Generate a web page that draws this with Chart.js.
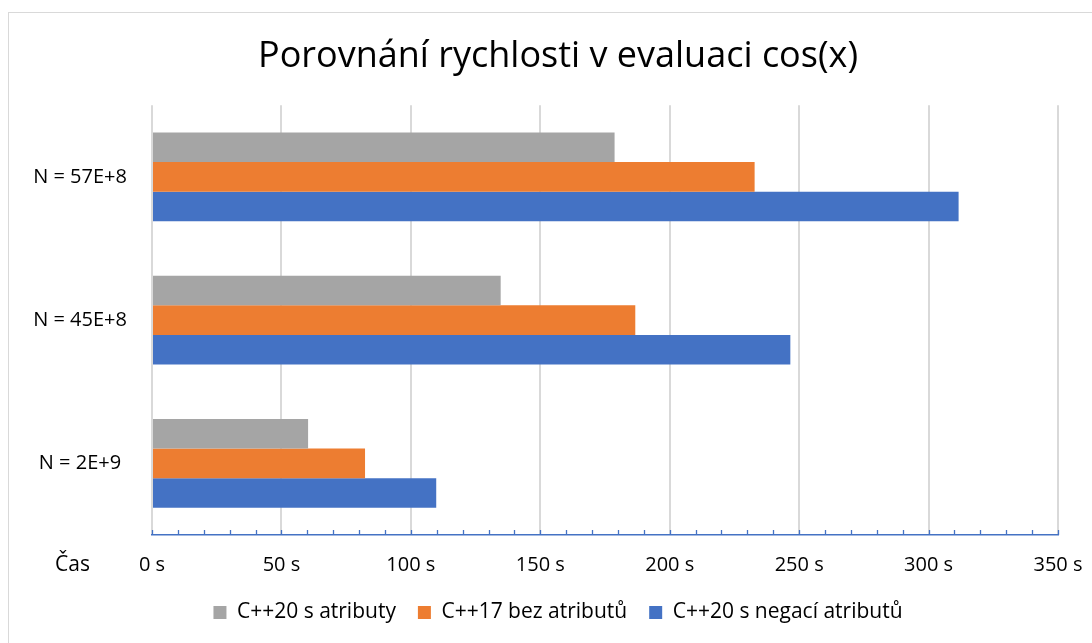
<!DOCTYPE html>
<html>
<head>
<meta charset="utf-8">
<script src="https://cdn.jsdelivr.net/npm/chart.js@4/dist/chart.umd.min.js"></script>
<style>
  html, body { margin: 0; padding: 0; background: #fff; }
  #wrap { position: relative; width: 1092px; height: 643px; overflow: hidden; }
  #frame { position: absolute; left: 8px; top: 12px; width: 1200px; height: 800px; border-top: 1px solid #d9d9d9; border-left: 1px solid #d9d9d9; }
  canvas { position: absolute; left: 0; top: 0; }
</style>
</head>
<body>
<div id="wrap">
  <div id="frame"></div>
  <canvas id="c" width="1092" height="643"></canvas>
</div>
<script>
const categories = ['N = 57E+8', 'N = 45E+8', 'N = 2E+9'];
const seriesNames = ['C++20 s atributy', 'C++17 bez atributů', 'C++20 s negací atributů'];
const cpp20Attr = [178.7, 134.7, 60.3];
const cpp17NoAttr = [232.8, 186.7, 82.3];
const cpp20NegAttr = [311.6, 246.6, 109.8];
const xTickUnit = ' s';
const axisTitle = 'Čas';
const chartTitle = 'Porovnání rychlosti v evaluaci cos(x)';

const FONT = '"Open Sans", "Noto Sans", sans-serif';
const CAT_FONT_SIZE = 20;
const CAT_CENTER_X = 80;   // centre of the category label column
const PAD_LEFT = 58;
const Y_AXIS_RIGHT = 152;

const mctx = document.createElement('canvas').getContext('2d');
mctx.font = CAT_FONT_SIZE + 'px ' + FONT;
const widestCat = Math.max(...categories.map(c => mctx.measureText(c).width));

const upTicks = {
  id: 'upTicks',
  afterDatasetsDraw(chart) {
    const x = chart.scales.x;
    const ctx = chart.ctx;
    const y0 = x.top;
    ctx.save();
    ctx.strokeStyle = '#4472C4';
    ctx.lineWidth = 1.3;
    x.ticks.forEach(t => {
      const px = Math.round(x.getPixelForValue(t.value)) + 0.5;
      ctx.beginPath();
      ctx.moveTo(px, y0);
      ctx.lineTo(px, y0 - 5);
      ctx.stroke();
    });
    ctx.fillStyle = '#000';
    ctx.font = '21px ' + FONT;
    ctx.textBaseline = 'middle';
    ctx.textAlign = 'left';
    ctx.fillText(axisTitle, 55, y0 + 30);
    ctx.restore();
  }
};

new Chart(document.getElementById('c'), {
  type: 'bar',
  data: {
    labels: categories,
    datasets: [
      { label: seriesNames[0], data: cpp20Attr, backgroundColor: '#A5A5A5' },
      { label: seriesNames[1], data: cpp17NoAttr, backgroundColor: '#ED7D31' },
      { label: seriesNames[2], data: cpp20NegAttr, backgroundColor: '#4472C4' }
    ]
  },
  options: {
    indexAxis: 'y',
    responsive: false,
    animation: false,
    devicePixelRatio: 1,
    datasets: { bar: { categoryPercentage: 0.62, barPercentage: 1.0, borderWidth: 0 } },
    layout: { padding: { left: PAD_LEFT, right: 34, top: 0, bottom: 10 } },
    plugins: {
      title: {
        display: true,
        text: chartTitle,
        color: '#000',
        font: { family: FONT, size: 36, weight: 'normal', lineHeight: 1.2 },
        padding: { top: 35, bottom: 27 }
      },
      legend: {
        position: 'bottom',
        labels: {
          color: '#000',
          font: { family: FONT, size: 21 },
          boxWidth: 13,
          boxHeight: 13,
          padding: 22
        }
      },
      tooltip: { enabled: false }
    },
    scales: {
      x: {
        min: 0,
        max: 350,
        afterFit: s => { s.height = 45; s.paddingLeft = 0; s.paddingRight = 0; },
        ticks: {
          stepSize: 10,
          autoSkip: false,
          maxRotation: 0,
          color: '#000',
          font: { family: FONT, size: 20 },
          padding: 18,
          callback: v => (v % 50 === 0 ? v + xTickUnit : '')
        },
        grid: {
          drawTicks: false,
          color: ctx => (ctx.tick && ctx.tick.value % 50 === 0 ? '#d9d9d9' : 'rgba(0,0,0,0)'),
          lineWidth: 2
        },
        border: { display: true, color: '#4472C4', width: 1.5 }
      },
      y: {
        afterFit: s => { s.width = Y_AXIS_RIGHT - PAD_LEFT; },
        ticks: {
          color: '#000',
          font: { family: FONT, size: CAT_FONT_SIZE },
          mirror: true,
          crossAlign: 'center',
          padding: CAT_CENTER_X - Y_AXIS_RIGHT - widestCat / 2
        },
        grid: { display: false, drawTicks: false },
        border: { display: false }
      }
    }
  },
  plugins: [upTicks]
});
</script>
</body>
</html>
